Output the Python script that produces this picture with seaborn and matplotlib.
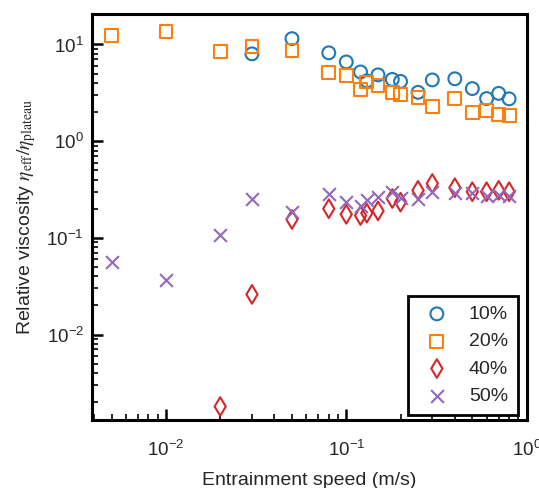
import numpy as np
import pandas as pd
import matplotlib
matplotlib.use("Agg")
import matplotlib.pyplot as plt
import seaborn as sns

# ---- data ----
speed_10 = [0.03, 0.05, 0.08, 0.1, 0.12, 0.13, 0.15, 0.18, 0.2, 0.25, 0.3, 0.4, 0.5, 0.6, 0.7, 0.8]
visc_10 = [8.0, 11.5, 8.2, 6.6, 5.2, 4.2, 4.85, 4.35, 4.15, 3.2, 4.3, 4.42, 3.5, 2.76, 3.12, 2.74]

speed_20 = [0.005, 0.01, 0.02, 0.03, 0.05, 0.08, 0.1, 0.12, 0.13, 0.15, 0.18, 0.2, 0.25, 0.3,
            0.4, 0.5, 0.6, 0.7, 0.8]
visc_20 = [12.4, 13.5, 8.4, 9.6, 8.7, 5.17, 4.78, 3.42, 4.1, 3.77, 3.16, 3.02, 2.84, 2.28,
           2.76, 1.98, 2.06, 1.89, 1.86]

speed_40 = [0.02, 0.03, 0.05, 0.08, 0.1, 0.12, 0.13, 0.15, 0.18, 0.2, 0.25, 0.3, 0.4, 0.5,
            0.6, 0.7, 0.8]
visc_40 = [0.0018, 0.026, 0.155, 0.20, 0.175, 0.17, 0.18, 0.19, 0.255, 0.234, 0.31, 0.365,
           0.33, 0.30, 0.30, 0.31, 0.30]

speed_50 = [0.005, 0.01, 0.02, 0.03, 0.05, 0.08, 0.1, 0.12, 0.13, 0.15, 0.18, 0.2, 0.25, 0.3,
            0.4, 0.5, 0.6, 0.7, 0.8]
visc_50 = [0.056, 0.037, 0.108, 0.255, 0.184, 0.286, 0.234, 0.213, 0.246, 0.264, 0.30, 0.26,
           0.255, 0.30, 0.29, 0.29, 0.27, 0.28, 0.27]

labels = ["10%", "20%", "40%", "50%"]
colors = ["#1f77b4", "#ff7f0e", "#d62728", "#9467bd"]
markers = ["o", "s", "d", "x"]

sns.set_style("ticks")
plt.rcParams["font.family"] = ["Liberation Sans", "DejaVu Sans"]
plt.rcParams["mathtext.fontset"] = "stix"

fig = plt.figure(figsize=(5.39, 4.88), dpi=100)
ax = fig.add_axes([0.171, 0.139, 0.806, 0.832])

series = [(speed_10, visc_10), (speed_20, visc_20), (speed_40, visc_40), (speed_50, visc_50)]
sizes = [85, 85, 90, 85]
for (xs, ys), lab, col, mk, sz in zip(series, labels, colors, markers, sizes):
    df = pd.DataFrame({"speed": xs, "visc": ys})
    if mk == "x":
        sns.scatterplot(data=df, x="speed", y="visc", marker=mk, s=sz, color=col,
                        linewidth=1.5, ax=ax, label=lab, zorder=3)
    else:
        sns.scatterplot(data=df, x="speed", y="visc", marker=mk, s=sz, facecolor="none",
                        edgecolor=col, linewidth=1.5, ax=ax, label=lab, zorder=3)

ax.set_xscale("log")
ax.set_yscale("log")
ax.set_xlim(0.0039, 1.0)
ax.set_ylim(0.0013, 20.6)

for sp in ax.spines.values():
    sp.set_linewidth(2.2)
    sp.set_color("black")
    sp.set_visible(True)

ax.tick_params(which="both", direction="in", top=False, right=False, labelsize=13.5,
               color="black")
ax.tick_params(which="major", length=8, width=1.8, pad=6)
ax.tick_params(axis="x", which="major", pad=14)
ax.tick_params(which="minor", length=4, width=1.2)

ax.set_xlabel("Entrainment speed (m/s)", fontsize=14, labelpad=9)
ax.set_ylabel(r"Relative viscosity $\eta_{\mathrm{eff}}/\eta_{\mathrm{plateau}}$",
              fontsize=14, labelpad=6)

leg = ax.legend(loc="lower right", bbox_to_anchor=(0.980, 0.0135), fontsize=14,
                frameon=True, fancybox=False, framealpha=1, edgecolor="black",
                handletextpad=0.65, labelspacing=0.5, borderaxespad=0.0,
                handlelength=2.0, borderpad=0.5)
leg.get_frame().set_linewidth(2.0)

fig.savefig("out.png", dpi=100)
